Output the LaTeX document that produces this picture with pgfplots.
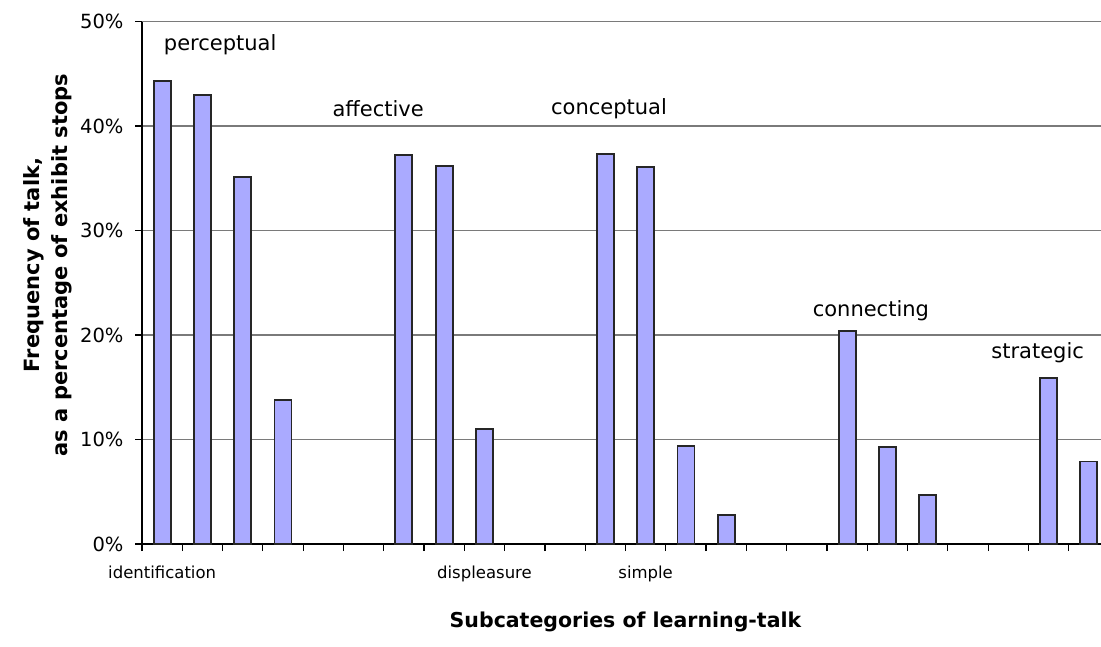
\documentclass[border=0pt]{standalone}
\usepackage{pgfplots}
\pgfplotsset{compat=1.18}
\usepackage{fontspec}
\setmainfont{DejaVu Sans}
\definecolor{barfill}{HTML}{AAAAFF}
\definecolor{gridgray}{HTML}{7A7A7A}
\begin{document}
\begin{tikzpicture}
\path[use as bounding box] (0,0) rectangle (1101bp,647bp);
\begin{axis}[
  at={(142bp,103bp)}, anchor=origin,
  scale only axis,
  width=967bp, height=522.5bp,
  xmin=0, xmax=24, ymin=0, ymax=50,
  axis x line=bottom, axis y line=left,
  axis line style={-, black, line width=1.4bp},
  tick align=outside,
  major tick length=7bp,
  tick style={black, line width=1.2bp},
  xtick={0,1,...,24}, xticklabels={},
  extra x ticks={0.5,8.5,12.5},
  extra x tick labels={identification,displeasure,simple},
  extra x tick style={major tick length=0pt, grid=none, tick style={draw=none}},
  xticklabel style={font=\fontsize{16.5bp}{19bp}\selectfont, yshift=-18bp},
  ytick={0,10,20,30,40,50},
  yticklabels={0\%,10\%,20\%,30\%,40\%,50\%},
  yticklabel style={font=\fontsize{19.5bp}{23bp}\selectfont, xshift=-8bp},
  ymajorgrids, xmajorgrids=false,
  grid style={gridgray, line width=1.5bp},
  ybar, bar width=17bp,
  xlabel={Subcategories of learning-talk},
  xlabel style={at={(axis description cs:0.5,-0.149)}, anchor=center, font=\fontsize{20.5bp}{25bp}\selectfont\bfseries},
  ylabel={Frequency of talk,\\as a percentage of exhibit stops},
  ylabel style={at={(axis description cs:-0.097,0.534)}, anchor=center, align=center, font=\fontsize{21bp}{28bp}\selectfont\bfseries},
  clip=false,
]
\addplot[fill=barfill, draw=black!85, line width=1.8bp] coordinates {
  (0.5,44.3) (1.5,43.0) (2.5,35.1) (3.5,13.8)
  (6.5,37.2) (7.5,36.2) (8.5,11.0)
  (11.5,37.3) (12.5,36.1) (13.5,9.4) (14.5,2.8)
  (17.5,20.4) (18.5,9.3) (19.5,4.7)
  (22.5,15.9) (23.5,7.9)
};
\node[font=\fontsize{21bp}{25bp}\selectfont] at (axis cs:1.94,47.8) {perceptual};
\node[font=\fontsize{21bp}{25bp}\selectfont] at (axis cs:5.86,41.7) {affective};
\node[font=\fontsize{21bp}{25bp}\selectfont] at (axis cs:11.59,41.7) {conceptual};
\node[font=\fontsize{21bp}{25bp}\selectfont] at (axis cs:18.09,22.3) {connecting};
\node[font=\fontsize{21bp}{25bp}\selectfont] at (axis cs:22.23,18.3) {strategic};
\end{axis}
\end{tikzpicture}
\end{document}
